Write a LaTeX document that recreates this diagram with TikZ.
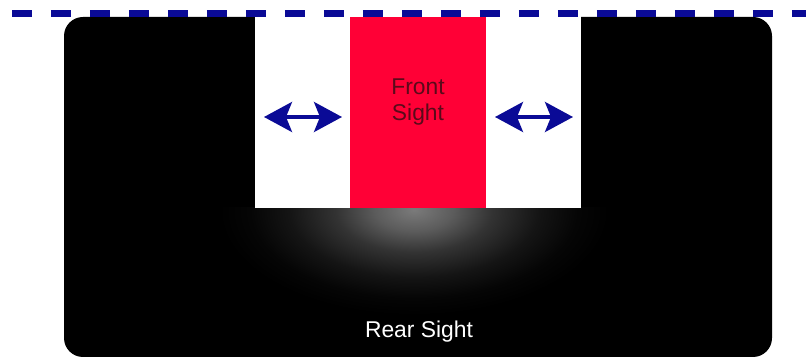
\documentclass[tikz,border=0pt]{standalone}
\usepackage{fontspec}
\setsansfont{Liberation Sans}
\usetikzlibrary{positioning, arrows.meta}
\definecolor{navy}{HTML}{0A0A96}
\definecolor{sightred}{HTML}{FF0036}
\definecolor{darkmaroon}{HTML}{5A0A1A}
\pgfdeclareradialshading{rearglow}{\pgfpoint{0bp}{0bp}}{color(0bp)=(black!52); color(5bp)=(black!64); color(10bp)=(black!80); color(16bp)=(black!92); color(21bp)=(black!98); color(25bp)=(black); color(50bp)=(black)}

\begin{document}
\begin{tikzpicture}[x=0.02cm, y=-0.02cm, font=\sffamily\fontsize{13}{14.4}\selectfont]
  \useasboundingbox (0,0) rectangle (806,358);
  \coordinate (bodytl) at (64,17);
  \coordinate (bodybr) at (772,357);
  \coordinate (notchtl) at (255,0);
  \coordinate (notchbr) at (581,208);
  \coordinate (fronttl) at (350,17);
  \coordinate (frontbr) at (486,208);
  \coordinate (glow) at (414,210);
  \coordinate (glowtl) at (64,208);
  \fill[black, rounded corners=0.38cm] (bodytl) rectangle (bodybr);
  \begin{scope}
    \clip (glowtl) rectangle (bodybr);
    \shade[shading=rearglow] (glow) ellipse [x radius=3.9cm, y radius=2.1cm];
  \end{scope}
  \fill[white] (notchtl) rectangle (notchbr);
  \fill[sightred] (fronttl) rectangle (frontbr);
  \node[text=darkmaroon, align=center] (front) at (418,102) {Front\\Sight};
  \node[text=white] (rear) at (419,332) {Rear Sight};
  \coordinate (leftin) at (264,117);
  \coordinate (leftout) at (342,117);
  \coordinate (rightin) at (495,117);
  \coordinate (rightout) at (573,117);
  \draw[navy, line width=0.07cm, {Stealth[length=0.56cm, width=0.6cm, inset=0.12cm]}-{Stealth[length=0.56cm, width=0.6cm, inset=0.12cm]}] (leftin) -- (leftout);
  \draw[navy, line width=0.07cm, {Stealth[length=0.56cm, width=0.6cm, inset=0.12cm]}-{Stealth[length=0.56cm, width=0.6cm, inset=0.12cm]}] (rightin) -- (rightout);
  \coordinate (dashstart) at (12,13.5);
  \coordinate (dashend) at (806,13.5);
  \draw[navy, line width=0.13cm, dash pattern=on 0.4cm off 0.38cm] (dashstart) -- (dashend);
\end{tikzpicture}
\end{document}
